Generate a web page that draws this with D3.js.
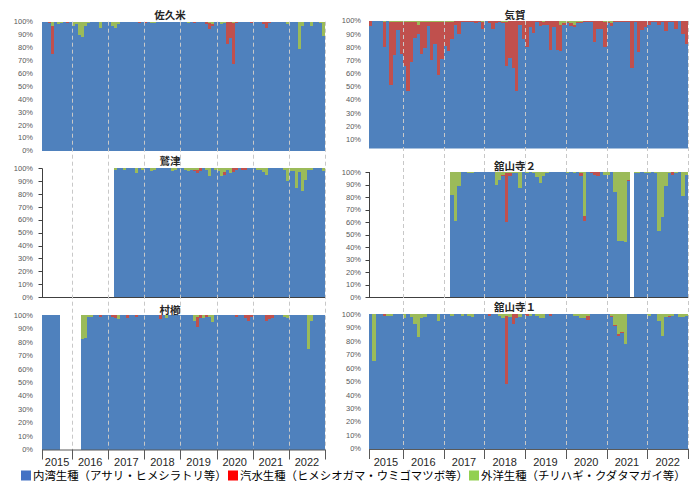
<!DOCTYPE html>
<html><head><meta charset="utf-8">
<script src="https://cdn.jsdelivr.net/npm/d3@7"></script>
<style>body{margin:0;background:#fff;} svg{display:block;}</style>
</head><body><svg id="c" width="694" height="482"></svg>
<script>
// ---------------- DATA ----------------
const years = ["2015","2016","2017","2018","2019","2020","2021","2022"];
const firstMonth = {"2015": 3}; // series begins March 2015, monthly samples
const seriesNames = ["内湾生種（アサリ・ヒメシラトリ等）","汽水生種（ヒメシオガマ・ウミゴマツボ等）","外洋生種（チリハギ・クダタマガイ等）"];
const yTicks = [0,10,20,30,40,50,60,70,80,90,100];
const _ = null;

// 佐久米
const sakumeBlue = [100,100,99,75,100,98,99,100,99,100, 97,98,90,88,97,99,100,100,100,95,100,100, 100,97,95,98,100,100,100,100,100,100,99,100, 99,100,99,99,100,100,100,100,100,100,100,100, 100,100,99,100,99,100,100,100,98,94,97,100, 100,98,99,83,87,67,99,100,100,100,100,99, 100,100,100,98,95,99,100,100,100,100,100,98, 100,100,100,79,97,100,100,97,100,100,99,89];
const sakumeRed = [0,0,1,22,0,0,0,0,1,0, 0,0,0,0,0,0,0,0,0,0,0,0, 0,0,0,0,0,0,0,0,0,0,1,0, 1,0,0,0,0,0,0,0,0,0,0,0, 0,0,0,0,1,0,0,0,2,5,1,0, 0,0,0,17,13,32,1,0,0,0,0,1, 0,0,0,2,5,1,0,0,0,0,0,0, 0,0,0,0,0,0,0,0,0,0,0,0];
const sakumeGreen = [0,0,0,3,0,2,1,0,0,0, 3,2,10,12,3,1,0,0,0,5,0,0, 0,3,5,2,0,0,0,0,0,0,0,0, 0,0,1,1,0,0,0,0,0,0,0,0, 0,0,1,0,0,0,0,0,0,1,2,0, 0,2,1,0,0,1,0,0,0,0,0,0, 0,0,0,0,0,0,0,0,0,0,0,2, 0,0,0,21,3,0,0,3,0,0,1,11];

// 鷲津
const washizuBlue = [_,_,_,_,_,_,_,_,_,_, _,_,_,_,_,_,_,_,_,_,_,_, _,_,99,100,100,99,100,100,100,96,100,99, 100,100,98,99,100,100,100,100,100,98,99,100, 100,99,98,99,98,96,98,100,99,94,100,99, 98,94,95,99,96,97,99,100,99,99,100,100, 100,99,99,97,95,100,100,100,100,100,99,90, 98,98,85,97,82,91,99,99,100,100,100,98];
const washizuRed = [_,_,_,_,_,_,_,_,_,_, _,_,_,_,_,_,_,_,_,_,_,_, _,_,0,0,0,0,0,0,0,0,0,0, 0,0,0,0,0,0,0,0,0,0,0,0, 0,0,0,0,1,3,2,0,0,0,0,0, 0,0,2,0,0,3,1,0,1,1,0,0, 0,0,0,0,0,0,0,0,0,0,0,0, 0,0,0,0,0,0,0,0,0,0,0,0];
const washizuGreen = [_,_,_,_,_,_,_,_,_,_, _,_,_,_,_,_,_,_,_,_,_,_, _,_,1,0,0,1,0,0,0,4,0,1, 0,0,2,1,0,0,0,0,0,2,1,0, 0,1,2,1,1,1,0,0,1,6,0,1, 2,6,3,1,4,0,0,0,0,0,0,0, 0,1,1,3,5,0,0,0,0,0,1,10, 2,2,15,3,18,9,1,1,0,0,0,2];

// 村櫛
const murakushiBlue = [100,100,100,100,100,100,_,_,_,_, _,_,_,82,83,99,99,100,100,99,100,100, 100,99,98,97,100,100,98,100,100,99,100,100, 100,100,100,100,100,97,100,98,100,100,100,100, 100,100,100,100,96,91,98,98,99,99,95,100, 100,100,100,100,100,100,99,100,100,98,96,99, 100,100,100,100,96,97,98,100,100,100,99,98, 100,100,100,100,100,100,75,96,100,100,100,100];
const murakushiRed = [0,0,0,0,0,0,_,_,_,_, _,_,_,0,0,0,0,0,0,1,0,0, 0,1,2,0,0,0,2,0,0,1,0,0, 0,0,0,0,0,3,0,0,0,0,0,0, 0,0,0,0,0,8,2,0,1,0,0,0, 0,0,0,0,0,0,1,0,0,2,4,1, 0,0,0,0,4,3,2,0,0,0,0,0, 0,0,0,0,0,0,0,0,0,0,0,0];
const murakushiGreen = [0,0,0,0,0,0,_,_,_,_, _,_,_,18,17,1,1,0,0,0,0,0, 0,0,0,3,0,0,0,0,0,0,0,0, 0,0,0,0,0,0,0,2,0,0,0,0, 0,0,0,0,4,1,0,2,0,1,5,0, 0,0,0,0,0,0,0,0,0,0,0,0, 0,0,0,0,0,0,0,0,0,0,1,2, 0,0,0,0,0,0,25,4,0,0,0,0];

// 気賀
const kigaBlue = [96,100,100,100,80,100,51,74,93,75, 66,47,69,87,90,75,79,96,70,82,59,71, 81,77,86,97,90,99,99,99,99,98,99,94, 100,98,94,98,99,98,66,72,64,47,97,86, 80,95,91,99,96,97,97,78,95,78,77,97, 98,96,95,98,98,99,99,99,84,94,94,80, 98,96,99,99,99,99,99,64,99,76,93,95, 97,99,99,97,99,92,99,99,94,100,90,82];
const kigaRed = [4,0,0,0,19,0,48,25,6,24, 33,52,30,12,7,24,20,3,29,17,40,28, 18,22,13,3,10,1,1,1,1,2,1,5, 0,2,6,2,1,1,33,28,36,53,3,14, 20,5,9,1,4,2,3,22,5,22,20,1, 1,2,2,1,1,1,1,1,16,6,6,19, 1,2,1,1,1,1,1,36,1,24,7,5, 3,1,1,3,1,8,1,1,6,0,10,18];
const kigaGreen = [0,0,0,0,1,0,1,1,1,1, 1,1,1,1,3,1,1,1,1,1,1,1, 1,1,1,0,0,0,0,0,0,0,0,1, 0,0,0,0,0,1,1,0,0,0,0,0, 0,0,0,0,0,1,0,0,0,0,3,2, 1,2,3,1,1,0,0,0,0,0,0,1, 1,2,0,0,0,0,0,0,0,0,0,0, 0,0,0,0,0,0,0,0,0,0,0,0];

// 舘山寺２
const tateyama2Blue = [_,_,_,_,_,_,_,_,_,_, _,_,_,_,_,_,_,_,_,_,_,_, _,_,82,61,89,100,100,99,99,100,100,100, 100,100,100,90,94,97,60,97,99,99,87,100, 99,100,99,96,91,97,99,100,100,100,100,100, 99,100,99,100,97,61,100,99,98,97,100,98, 98,100,84,45,45,44,93,_,99,99,100,99, 99,100,99,53,64,89,99,98,99,100,81,98];
const tateyama2Red = [_,_,_,_,_,_,_,_,_,_, _,_,_,_,_,_,_,_,_,_,_,_, _,_,0,0,0,0,0,0,0,0,0,0, 0,0,0,0,0,1,39,2,0,0,0,0, 0,0,0,0,0,0,0,0,0,0,0,0, 0,0,0,0,2,4,0,1,2,3,0,0, 0,0,0,0,0,0,1,_,0,0,0,0, 0,0,0,0,0,0,0,2,0,0,0,0];
const tateyama2Green = [_,_,_,_,_,_,_,_,_,_, _,_,_,_,_,_,_,_,_,_,_,_, _,_,18,39,11,0,0,1,1,0,0,0, 0,0,0,10,6,2,1,1,1,1,13,0, 1,0,1,4,9,3,1,0,0,0,0,0, 1,0,1,0,1,35,0,0,0,0,0,2, 2,0,16,55,55,56,6,_,1,1,0,1, 1,0,1,47,36,11,1,0,1,0,19,2];

// 舘山寺１
const tateyama1Blue = [100,65,100,100,99,99,99,100,100,100, 97,100,98,93,83,97,98,100,100,100,95,100, 100,100,99,100,100,99,100,99,98,100,100,100, 100,99,100,100,99,97,48,98,93,97,98,100, 99,99,100,99,97,97,100,99,100,100,100,100, 100,100,99,99,97,97,96,100,100,100,100,100, 100,98,91,84,86,78,100,100,100,100,100,100, 99,100,100,95,84,98,98,99,100,98,98,99];
const tateyama1Red = [0,0,0,0,1,0,0,0,0,0, 0,0,0,0,0,0,0,0,0,0,0,0, 0,0,0,0,0,0,0,0,0,0,0,0, 0,1,0,0,0,0,51,0,7,3,0,0, 1,0,0,0,0,0,0,1,0,0,0,0, 0,0,0,0,0,0,3,0,0,0,0,0, 0,1,1,1,1,0,0,0,0,0,0,0, 0,0,0,0,0,0,1,0,0,0,0,0];
const tateyama1Green = [0,35,0,0,0,1,1,0,0,0, 3,0,2,7,17,3,2,0,0,0,5,0, 0,0,1,0,0,1,0,1,2,0,0,0, 0,0,0,0,1,3,1,2,0,0,2,0, 0,1,0,1,3,3,0,0,0,0,0,0, 0,0,1,1,3,3,1,0,0,0,0,0, 0,1,8,15,13,22,0,0,0,0,0,0, 1,0,0,5,16,2,1,1,0,2,2,1];

// ---------------- CATEGORIES ----------------
const months = [];
years.forEach(y => { for (let m = (firstMonth[y] || 1); m <= 12; m++) months.push(y + "-" + String(m).padStart(2, "0")); });

// ---------------- LAYOUT ----------------
const colors = {blue: "#4F81BD", red: "#C0504D", green: "#9BBB59"};
const legendColors = ["#4472C4", "#FF0000", "#92D050"];
const cols = [
  {x0: 42, x1: 325, lineTop: 21.7, axisY: 449.5, labelX: 33, titleX: 170},
  {x0: 369, x1: 688, lineTop: 21, axisY: 449, labelX: 361, titleX: 515}
];
const panels = [
  {title: "佐久米", col: 0, top: 21.7, bottom: 150.7, titleY: 19, blue: sakumeBlue, red: sakumeRed, green: sakumeGreen},
  {title: "鷲津", col: 0, top: 168.3, bottom: 297, titleY: 164.5, axis: true, blue: washizuBlue, red: washizuRed, green: washizuGreen},
  {title: "村櫛", col: 0, top: 315.3, bottom: 449.5, titleY: 313.5, xAxis: true, blue: murakushiBlue, red: murakushiRed, green: murakushiGreen},
  {title: "気賀", col: 1, top: 20.7, bottom: 152.5, clipY: 148.5, hideZero: true, titleY: 18.5, blue: kigaBlue, red: kigaRed, green: kigaGreen},
  {title: "舘山寺２", col: 1, top: 172, bottom: 297, titleY: 169.5, axis: true, blue: tateyama2Blue, red: tateyama2Red, green: tateyama2Green},
  {title: "舘山寺１", col: 1, top: 314.3, bottom: 448.7, titleY: 311, xAxis: true, blue: tateyama1Blue, red: tateyama1Red, green: tateyama1Green}
];

const svg = d3.select("#c");
svg.append("rect").attr("width", 694).attr("height", 482).attr("fill", "#fff");
const defs = svg.append("defs");

const xScales = cols.map(c => d3.scaleBand().domain(months).range([c.x0, c.x1]).padding(0));
const stack = d3.stack().keys(["blue", "red", "green"]);
const numFont = "'Liberation Sans', Arial, sans-serif";
const jpFont = "'Noto Sans CJK JP', 'Noto Sans', sans-serif";

panels.forEach((p, pi) => {
  const c = cols[p.col];
  const x = xScales[p.col];
  const y = d3.scaleLinear().domain([0, 100]).range([p.bottom, p.top]);
  const rows = months.map((m, i) => ({month: m, blue: p.blue[i], red: p.red[i], green: p.green[i]}))
                     .filter(r => r.blue !== null);
  const g = svg.append("g").attr("shape-rendering", "crispEdges");
  if (p.clipY) {
    defs.append("clipPath").attr("id", "clip" + pi).append("rect")
      .attr("x", c.x0 - 2).attr("y", 0).attr("width", c.x1 - c.x0 + 4).attr("height", p.clipY);
    g.attr("clip-path", "url(#clip" + pi + ")");
  }
  const layers = stack(rows);
  g.selectAll("g.layer").data(layers).join("g")
    .attr("fill", d => colors[d.key])
    .selectAll("rect").data(d => d.filter(e => e[1] > e[0])).join("rect")
      .attr("x", d => x(d.data.month))
      .attr("width", x.bandwidth())
      .attr("y", d => y(d[1]))
      .attr("height", d => y(d[0]) - y(d[1]));

  // y tick labels
  svg.append("g").selectAll("text").data(yTicks.filter(t => !(p.hideZero && t === 0))).join("text")
    .attr("x", c.labelX).attr("y", d => y(d)).attr("dy", "0.35em")
    .attr("text-anchor", "end").attr("font-family", numFont).attr("font-size", 7.5)
    .attr("fill", "#595959").text(d => d + "%");

  if (p.axis) {
    const a = svg.append("g").attr("stroke", "#404040").attr("stroke-width", 1);
    a.append("line").attr("x1", c.x0 + 0.5).attr("x2", c.x0 + 0.5).attr("y1", p.top).attr("y2", p.bottom);
    a.append("line").attr("x1", c.x0).attr("x2", c.x1).attr("y1", p.bottom + 0.5).attr("y2", p.bottom + 0.5);
    a.selectAll("line.t").data(yTicks).join("line").attr("class", "t")
      .attr("x1", c.x0 - 3.5).attr("x2", c.x0).attr("y1", d => Math.round(y(d)) + 0.5).attr("y2", d => Math.round(y(d)) + 0.5);
  }

  svg.append("text").attr("x", c.titleX).attr("y", p.titleY).attr("text-anchor", "middle")
    .attr("font-family", jpFont).attr("font-weight", "bold").attr("font-size", 10.5)
    .attr("fill", "#262626").text(p.title);
});

// year boundary dashed lines and bottom axis
cols.forEach((c, ci) => {
  const x = xScales[ci];
  const bounds = years.slice(1).map(yr => x(yr + "-01")).concat([c.x1]);
  svg.append("g").selectAll("line").data(bounds).join("line")
    .attr("x1", d => Math.round(d) + 0.5).attr("x2", d => Math.round(d) + 0.5)
    .attr("y1", c.lineTop).attr("y2", c.axisY)
    .attr("stroke", "#c8c8c8").attr("stroke-width", 1).attr("stroke-dasharray", "4,3");
  const ax = svg.append("g").attr("stroke", "#595959").attr("stroke-width", 1);
  ax.append("line").attr("x1", c.x0).attr("x2", c.x1).attr("y1", c.axisY + 0.5).attr("y2", c.axisY + 0.5);
  ax.selectAll("line.tk").data([c.x0].concat(bounds)).join("line").attr("class", "tk")
    .attr("x1", d => Math.round(d) + 0.5).attr("x2", d => Math.round(d) + 0.5)
    .attr("y1", c.axisY).attr("y2", c.axisY + 10);
  const yearStarts = years.map((yr, i) => i === 0 ? c.x0 : x(yr + "-01"));
  svg.append("g").selectAll("text").data(years).join("text")
    .attr("x", (d, i) => (yearStarts[i] + (i < years.length - 1 ? yearStarts[i + 1] : c.x1)) / 2)
    .attr("y", 465.5).attr("text-anchor", "middle")
    .attr("font-family", numFont).attr("font-size", 11).attr("fill", "#262626").text(d => d);
});

// legend
const legendX = [21, 228, 469];
const lg = svg.append("g");
seriesNames.forEach((n, i) => {
  lg.append("rect").attr("x", legendX[i]).attr("y", 470.5).attr("width", 10).attr("height", 10).attr("fill", legendColors[i]);
  lg.append("text").attr("x", legendX[i] + 12).attr("y", 480).attr("font-family", jpFont)
    .attr("font-size", 11.4).attr("fill", "#000").text(n);
});
</script></body></html>
